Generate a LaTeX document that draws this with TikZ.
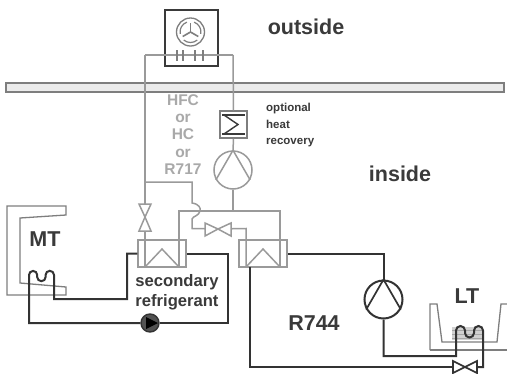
\documentclass[tikz,border=0pt]{standalone}
\usepackage{fontspec}
\usetikzlibrary{calc}
\setmainfont{Liberation Sans}
\definecolor{pipeg}{HTML}{9A9A9A}
\definecolor{pipek}{HTML}{333333}
\definecolor{txt}{HTML}{3A3A3A}
\definecolor{casec}{HTML}{7E7E7E}
\begin{document}
\begin{tikzpicture}[x=1pt,y=-1pt,line join=miter,
  gp/.style={draw=pipeg,line width=1.5pt},
  kp/.style={draw=pipek,line width=2pt},
  caseline/.style={draw=casec,line width=1.3pt},
  hxbox/.style={draw=pipeg,line width=1.5pt,minimum width=48pt,minimum height=27pt,inner sep=0pt},
  comp/.style={circle,minimum size=38pt,inner sep=0pt,line width=1.5pt},
  vtip/.style={draw=pipeg,line width=1.5pt,fill=white},
  lab/.style={font=\bfseries\fontsize{21.5}{22}\selectfont,text=txt,inner sep=0pt},
  labs/.style={font=\bfseries\fontsize{16.6}{20}\selectfont,text=txt,inner sep=0pt,align=center},
  labg/.style={font=\bfseries\fontsize{15.5}{17.3}\selectfont,text=pipeg!85!white,inner sep=0pt,align=center},
  labt/.style={font=\bfseries\fontsize{11.5}{16.5}\selectfont,text=txt,inner sep=0pt,align=left}]
\useasboundingbox (0,0) rectangle (507,373);
\fill[white] (0,0) rectangle (507,373);
% wall
\node[draw=casec,fill=black!8,line width=1.8pt,minimum width=498pt,minimum height=9.5pt,inner sep=0pt] (wall) at (255,87.5) {};
% outdoor unit
\node[draw=txt,line width=1.4pt,minimum width=53pt,minimum height=56pt,inner sep=0pt] (cond) at (191.5,38) {};
\node[circle,draw=casec,line width=1.3pt,minimum size=28pt,inner sep=0pt] (fan) at (190.5,32) {};
\foreach \a in {90,210,330}{
  \draw[draw=casec,line width=1.6pt] (fan.center) -- ++(\a:9pt);
  \draw[draw=casec,line width=1.2pt] ($(fan.center)+(\a+20:10.5pt)$) arc[start angle=\a+20,end angle=\a+100,radius=10.5pt];
}
\coordinate (cl) at (145,55);
\coordinate (cr) at (233,55);
\draw[gp] (cl) -- (cr);
\foreach \x in {177,183,195,203}{\draw[draw=casec,line width=1.2pt] (\x,50) -- (\x,61);}
% heat recovery
\node[draw=casec,line width=1.5pt,minimum width=27pt,minimum height=27pt,inner sep=0pt] (rec) at (233.5,124.5) {};
\draw[draw=txt,line width=1.2pt] (222,115) -- (245,115) (222,134) -- (245,134);
\draw[draw=txt,line width=1.4pt] (224,115) -- (238,124.5) -- (224,134);
% gray compressor
\node[comp,draw=pipeg] (cg) at (233,170) {};
\draw[gp] (cg.north) -- (cg.210) (cg.north) -- (cg.330);
% heat exchangers
\node[hxbox] (hxa) at (162,253.5) {};
\node[hxbox] (hxb) at (263,253.5) {};
\coordinate (al) at (145,267); \coordinate (ar) at (179,267);
\coordinate (bl) at (246,267); \coordinate (br) at (280,267);
\draw[gp] (al) -- (162,249) -- (ar);
\draw[gp] (bl) -- (263,249) -- (br);
% gray circuit
\node[inner sep=0pt,minimum size=0pt] (va) at (145,217) {};
\node[inner sep=0pt,minimum size=0pt] (vb) at (218,229) {};
\coordinate (tee) at (145,182);
\coordinate (suc) at (233,211);
\draw[gp] (cl) -- (tee) -- (va) (va) -- (al);
\draw[gp] (cr) -- (rec.north);
\draw[gp] (rec.south) -- (cg.north);
\draw[gp] (cg.south) -- (suc);
\draw[gp] (ar) |- (suc) -| (br);
\draw[gp] (tee) -| (192,203) .. controls (199,204) and (201,208) .. (200,211) .. controls (199,216) and (193,216) .. (192,219) -- (192,228.5) -- (vb) -- (246,228.5) -- (bl);
\draw[vtip] (va.center) -- (139,204) -- (151,204) -- cycle;
\draw[vtip] (va.center) -- (139,231) -- (151,231) -- cycle;
\draw[vtip] (vb.center) -- (205,223) -- (205,236) -- cycle;
\draw[vtip] (vb.center) -- (231,223) -- (231,236) -- cycle;
% MT cabinet
\draw[caseline] (7,206) -- (66,206) -- (66,215) -- (20,218) -- (20,283) -- (66,287) -- (66,295) -- (7,295) -- cycle;
% secondary loop
\node[circle,draw=pipek,fill=pipek!85,line width=1.4pt,minimum size=18pt,inner sep=0pt] (pump) at (150,323) {};
\fill[black] (146,317) -- (158,323) -- (146,329) -- cycle;
\draw[kp] (hxa.west) -| (127,299) -| (54,275) arc[start angle=0,end angle=180,radius=4.2pt] -- (45.6,277) arc[start angle=0,end angle=-180,radius=4.2pt] -- (37.2,275) arc[start angle=0,end angle=180,radius=4.1pt] -- (29,323) -- (pump.west);
\draw[kp] (pump.east) -| (228,253.5) -- (hxa.east);
% LT cabinet
\draw[caseline] (430,350) -- (430,304) -- (437,304) -- (442,342) -- (497,342) -- (501,304) -- (507,304);
\draw[caseline] (430,350) -- (507,350);
\fill[black!18] (452,327) rectangle (482,340);
\foreach \y in {330,334,338}{\draw[black!35,line width=.8pt] (452,\y) -- (482,\y);}
% R744 loop
\node[comp,draw=pipek,line width=2pt] (ck) at (383.5,299.5) {};
\draw[kp,line width=1.7pt] (ck.north) -- (ck.210) (ck.north) -- (ck.330);
\node[inner sep=0pt,minimum size=0pt] (vc) at (465,367) {};
\draw[kp] (hxb.east) -| (ck.north);
\draw[kp] (ck.south) |- (456,356) -- (456,330.5) arc[start angle=180,end angle=0,radius=4.5pt] -- (465,333) arc[start angle=180,end angle=360,radius=4.5pt] -- (474,330.5) arc[start angle=180,end angle=0,radius=4.5pt] -- (483,367) -- (vc);
\draw[kp] (250,267) |- (vc);
\draw[draw=pipek,line width=1.6pt,fill=white] (vc.center) -- (453,361) -- (453,373) -- cycle;
\draw[draw=pipek,line width=1.6pt,fill=white] (vc.center) -- (477,361) -- (477,373) -- cycle;
% labels
\node[lab] (t1) at (306,27) {outside};
\node[lab] (t2) at (400,174) {inside};
\node[lab] (t3) at (45,239) {MT};
\node[lab] (t4) at (314,323) {R744};
\node[lab] (t5) at (467,296) {LT};
\node[labs] (t6) at (177,292) {secondary\\refrigerant};
\node[labg] (t7) at (183,134.5) {HFC\\or\\HC\\or\\R717};
\node[labt,anchor=west] (t8) at (266,125.5) {optional\\heat\\recovery};
\end{tikzpicture}
\end{document}
